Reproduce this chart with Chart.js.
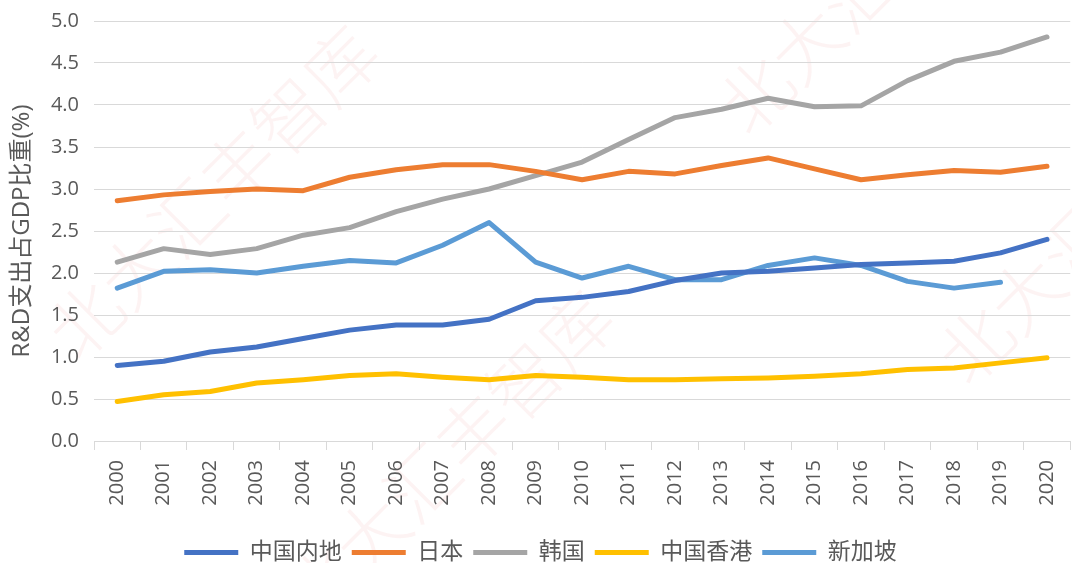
<!DOCTYPE html>
<html><head><meta charset="utf-8">
<script src="https://cdn.jsdelivr.net/npm/chart.js@4/dist/chart.umd.min.js"></script>
<style>html,body{margin:0;padding:0;overflow:hidden;background:#fff}#wrap{position:absolute;left:0;top:0;width:1081px;height:563px}</style>
</head><body><div id="wrap"><canvas id="c"></canvas></div>
<script>
const years = ['2000','2001','2002','2003','2004','2005','2006','2007','2008','2009','2010','2011','2012','2013','2014','2015','2016','2017','2018','2019','2020'];
const mainland = [0.90,0.95,1.06,1.12,1.22,1.32,1.38,1.38,1.45,1.67,1.71,1.78,1.91,2.00,2.02,2.06,2.10,2.12,2.14,2.24,2.40];
const japan = [2.86,2.93,2.97,3.00,2.98,3.14,3.23,3.29,3.29,3.21,3.11,3.21,3.18,3.28,3.37,3.24,3.11,3.17,3.22,3.20,3.27];
const korea = [2.13,2.29,2.22,2.29,2.45,2.54,2.73,2.88,3.00,3.16,3.32,3.59,3.85,3.95,4.08,3.98,3.99,4.29,4.52,4.63,4.81];
const hongkong = [0.47,0.55,0.59,0.69,0.73,0.78,0.80,0.76,0.73,0.78,0.76,0.73,0.73,0.74,0.75,0.77,0.80,0.85,0.87,0.93,0.99];
const singapore = [1.82,2.02,2.04,2.00,2.08,2.15,2.12,2.33,2.60,2.13,1.94,2.08,1.92,1.92,2.09,2.18,2.09,1.90,1.82,1.89,null];
const yTicks = [0,0.5,1,1.5,2,2.5,3,3.5,4,4.5,5];

const FONT = '"Open Sans","Noto Sans CJK SC",sans-serif';
const TXT = '#595959';

const watermark = {
  id:'wm',
  beforeDraw(chart){
    const ctx = chart.ctx;
    ctx.save();
    ctx.fillStyle = 'rgba(225,90,90,0.075)';
    ctx.font = '300 72px "Noto Sans CJK SC"';
    ctx.textBaseline = 'middle';
    const starts = [[60,345],[295,610],[730,120],[950,370]];
    for (const [x,y] of starts){
      ctx.save();
      ctx.translate(x,y);
      ctx.rotate(-Math.PI/4);
      ctx.fillText('北大汇丰智库',0,0);
      ctx.restore();
    }
    ctx.restore();
  }
};

function ds(label, data, color){
  return {label, data, borderColor:color, backgroundColor:color, borderWidth:5,
    pointRadius:0, pointHoverRadius:0, tension:0, fill:false, spanGaps:false,
    borderCapStyle:'round', borderJoinStyle:'round'};
}

new Chart(document.getElementById('c'), {
  type:'line',
  data:{labels:years, datasets:[
    ds('中国内地', mainland, '#4472C4'),
    ds('日本', japan, '#ED7D31'),
    ds('韩国', korea, '#A5A5A5'),
    ds('中国香港', hongkong, '#FFC000'),
    ds('新加坡', singapore, '#5B9BD5')
  ]},
  plugins:[watermark],
  options:{
    responsive:true, maintainAspectRatio:false, animation:false,
    layout:{padding:{top:21,left:0,right:0,bottom:-11}},
    plugins:{
      legend:{position:'bottom',
        labels:{usePointStyle:true, pointStyle:'line', pointStyleWidth:54, boxHeight:20,
          color:TXT, font:{family:FONT,size:23}, padding:10}},
      tooltip:{enabled:false}
    },
    scales:{
      x:{
        offset:true,
        grid:{display:true, drawOnChartArea:false, drawTicks:true, tickLength:9, offset:true, color:'#d9d9d9'},
        border:{display:true, color:'#d9d9d9'},
        ticks:{minRotation:90, maxRotation:90, autoSkip:false, color:TXT, font:{family:FONT,size:20}, padding:10},
        afterFit(s){ s.height = 90; }
      },
      y:{
        min:0, max:5,
        afterBuildTicks(s){ s.ticks = yTicks.map(v=>({value:v})); },
        grid:{color:'#d9d9d9', drawTicks:false, lineWidth:1},
        border:{display:false},
        ticks:{color:TXT, font:{family:FONT,size:20}, padding:15, callback:v=>Number(v).toFixed(1)},
        title:{display:true, text:'R&D支出占GDP比重(%)', color:TXT, font:{family:FONT,size:24}, padding:{top:8,bottom:0}},
        afterFit(s){ s.width = 94; s.paddingTop = 0; s.paddingBottom = 0; }
      }
    }
  }
});
</script></body></html>
